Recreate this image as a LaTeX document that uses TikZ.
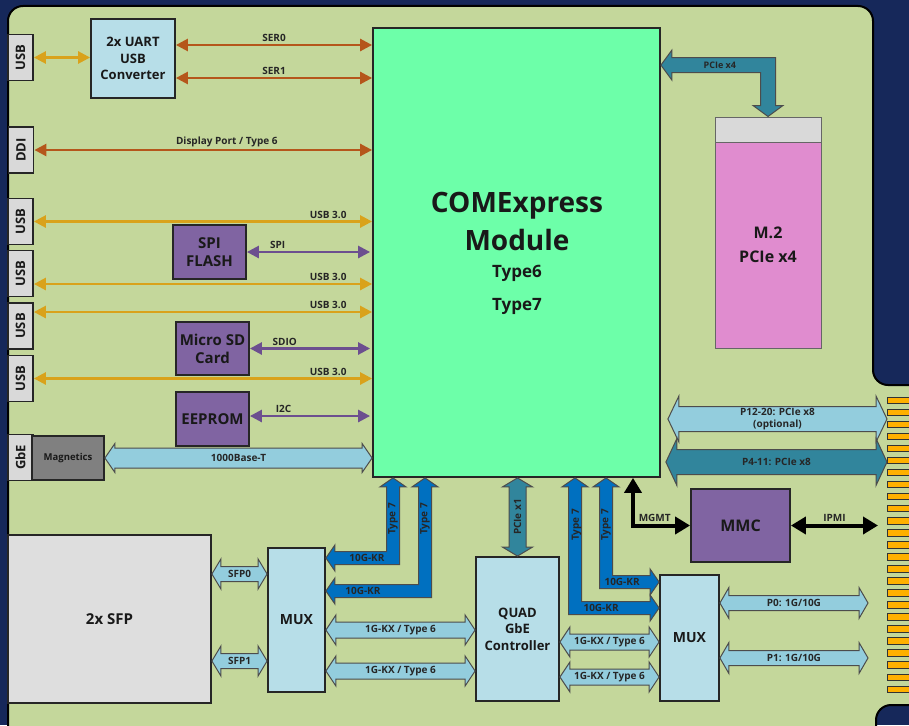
\documentclass[tikz,border=0pt]{standalone}
\usepackage{fontspec}
\setmainfont{Open Sans}
\usetikzlibrary{arrows.meta,calc}

\definecolor{bgnavy}{HTML}{16285A}
\definecolor{boardgreen}{HTML}{C4D79B}
\definecolor{comgreen}{HTML}{6DFFA9}
\definecolor{lightbox}{HTML}{B7DEE8}
\definecolor{plugray}{HTML}{D9D9D9}
\definecolor{sfpgray}{HTML}{DEDEDE}
\definecolor{chipviolet}{HTML}{8064A2}
\definecolor{serbrown}{HTML}{B5561B}
\definecolor{usbgold}{HTML}{D9A21B}
\definecolor{busviolet}{HTML}{6C4F8F}
\definecolor{laneblue}{HTML}{93CDDD}
\definecolor{laneteal}{HTML}{31859C}
\definecolor{krblue}{HTML}{0070C0}
\definecolor{m2pink}{HTML}{E08CCF}
\definecolor{fingergold}{HTML}{FFB000}

\tikzset{
  box/.style={draw=black!85, line width=1.8pt, align=center, inner sep=0pt, text=black!90},
  plug/.style={box, fill=plugray, font=\bfseries\fontsize{13}{13}\selectfont,
    minimum width=25pt, minimum height=46pt},
  chip/.style={box, fill=chipviolet, font=\bfseries\fontsize{15}{18}\selectfont,
    minimum width=73pt, minimum height=54pt},
  lbox/.style={box, fill=lightbox, font=\bfseries\fontsize{13}{16.5}\selectfont},
  comtxt/.style={font=\bfseries\fontsize{28}{34}\selectfont, text=black!90, anchor=base},
  typetxt/.style={font=\bfseries\fontsize{17}{20}\selectfont, text=black!90, anchor=base},
  lbl/.style={font=\bfseries\fontsize{10}{12}\selectfont, text=black!85, inner sep=2pt, align=center},
  ser/.style={draw=serbrown, line width=2.6pt, <->},
  usbline/.style={draw=usbgold, line width=2.6pt, <->},
  bus/.style={draw=busviolet, line width=2.6pt, <->},
  ctrl/.style={draw=black, line width=4pt, >={Triangle[length=15pt,width=17pt]}, <->},
  fatlight/.style={fill=laneblue, draw=black!70, line width=1pt},
  fatteal/.style={fill=laneteal, draw=black!70, line width=1pt},
  fatkr/.style={fill=krblue, draw=black!70, line width=1pt},
  finger/.style={fill=fingergold, draw=black!80, line width=0.8pt},
  board/.style={fill=boardgreen, draw=black, line width=2pt, rounded corners=15pt},
}

% wide double arrow: style, left tip, right tip, shaft, head, head length, label
\newcommand\fatarrow[7]{%
  \draw[#1] let \p1=#2, \p2=#3 in
    (\x1,\y1) -- ({\x1+#6},{\y1+#5}) -- ({\x1+#6},{\y1+#4}) -- ({\x2-#6},{\y1+#4})
    -- ({\x2-#6},{\y1+#5}) -- (\x2,\y1) -- ({\x2-#6},{\y1-#5}) -- ({\x2-#6},{\y1-#4})
    -- ({\x1+#6},{\y1-#4}) -- ({\x1+#6},{\y1-#5}) -- cycle
    ({(\x1+\x2)/2},\y1) node[lbl] {#7};}

% same, upright: style, top tip, bottom tip, shaft, head, head length, label
\newcommand\fatarrowv[7]{%
  \draw[#1] let \p1=#2, \p2=#3 in
    (\x1,\y1) -- ({\x1+#5},{\y1-#6}) -- ({\x1+#4},{\y1-#6}) -- ({\x1+#4},{\y2+#6})
    -- ({\x1+#5},{\y2+#6}) -- (\x1,\y2) -- ({\x1-#5},{\y2+#6}) -- ({\x1-#4},{\y2+#6})
    -- ({\x1-#4},{\y1-#6}) -- ({\x1-#5},{\y1-#6}) -- cycle
    (\x1,{(\y1+\y2)/2}) node[lbl, rotate=90] {#7};}

% bent double arrow: style, upright tip, side tip, side (1 right/-1 left),
% upright (1 up/-1 down), shaft, head, head length
\newcommand\bentarrow[8]{%
  \draw[#1] let \p1=#2, \p2=#3, \n1={(#4)*(#5)} in
    (\x1,\y1) -- ({\x1+#7},{\y1-(#5)*#8}) -- ({\x1+#6},{\y1-(#5)*#8})
    -- ({\x1+#6},{\y2+(\n1)*#6}) -- ({\x2-(#4)*#8},{\y2+(\n1)*#6})
    -- ({\x2-(#4)*#8},{\y2+(\n1)*#7}) -- (\x2,\y2)
    -- ({\x2-(#4)*#8},{\y2-(\n1)*#7}) -- ({\x2-(#4)*#8},{\y2-(\n1)*#6})
    -- ({\x1-#6},{\y2-(\n1)*#6}) -- ({\x1-#6},{\y1-(#5)*#8})
    -- ({\x1-#7},{\y1-(#5)*#8}) -- cycle;}

\begin{document}
\begin{tikzpicture}[x=1pt, y=-1pt, >={Triangle[length=12pt,width=12pt]}]
\useasboundingbox (0,0) rectangle (909,725);
\clip (0,0) rectangle (909,725);
\fill[bgnavy] (0,0) rectangle (909,725);

% carrier board with edge fingers
\draw[board] (8,745) -- (8,6) -- (873,6) -- (873,385) -- (950,385)
  -- (950,705) -- (876,705) -- (876,745) -- cycle;
\foreach \i in {0,...,24}
  \draw[finger] (887,{397+12.04*\i}) rectangle (916,{403.5+12.04*\i});
\coordinate (fingers) at (887,0);
\coordinate (pend) at (868,0);
\coordinate (ipmiend) at (878,0);

% front connectors
\node[plug] (usbA) at (20.5,57.5) {\rotatebox{90}{USB}};
\node[plug] (ddi) at (21,150) {\rotatebox{90}{DDI}};
\node[plug] (usbB) at (20.5,221.5) {\rotatebox{90}{USB}};
\node[plug] (usbC) at (20.5,273.5) {\rotatebox{90}{USB}};
\node[plug] (usbD) at (20.5,326) {\rotatebox{90}{USB}};
\node[plug] (usbE) at (20.5,378.5) {\rotatebox{90}{USB}};
\node[plug] (gbe) at (20.5,457.5) {\rotatebox{90}{GbE}};
\node[box, fill=black!50, font=\bfseries\fontsize{9.5}{11}\selectfont,
  minimum width=72pt, minimum height=44pt] (mag) at (68,458) {Magnetics};

% module and devices
\node[box, fill=comgreen, minimum width=287pt, minimum height=449pt] (com) at (516.5,252.5) {};
\node[comtxt] at (517,212) {COMExpress};
\node[comtxt] at (517,250) {Module};
\node[typetxt] at (517,277) {Type6};
\node[typetxt] at (517,310) {Type7};

\node[lbox, minimum width=84pt, minimum height=79pt] (uart) at (133,58.5) {2x UART\\USB\\Converter};
\node[chip] (spi) at (209.5,252) {SPI\\FLASH};
\node[chip, minimum height=53pt] (sd) at (212.5,348.5) {Micro SD\\Card};
\node[chip] (eeprom) at (212.5,419) {EEPROM};

\node[box, draw=black!60, line width=1pt, fill=plugray,
  minimum width=106pt, minimum height=25pt] (m2cap) at (768,129.5) {};
\node[box, draw=black!60, line width=1pt, fill=m2pink, font=\bfseries\fontsize{16}{24}\selectfont,
  minimum width=106pt, minimum height=206pt] (m2) at (768,245) {M.2\\PCIe x4};

\node[box, fill=sfpgray, font=\bfseries\fontsize{15}{18}\selectfont,
  minimum width=203pt, minimum height=168pt] (sfp) at (109.5,619) {2x SFP};
\node[lbox, font=\bfseries\fontsize{14}{16}\selectfont,
  minimum width=57pt, minimum height=144pt] (muxL) at (296.5,620) {MUX};
\node[lbox, minimum width=83pt, minimum height=144pt] (quad) at (517.5,629) {QUAD\\GbE\\Controller};
\node[lbox, font=\bfseries\fontsize{14}{16}\selectfont,
  minimum width=59pt, minimum height=126pt] (muxR) at (689.5,638) {MUX};
\node[chip, font=\bfseries\fontsize{16}{18}\selectfont,
  minimum width=99pt, minimum height=73pt] (mmc) at (740.5,525.5) {MMC};

% serial, display and usb lines
\draw[usbline] (usbA.east) -- (usbA.east -| uart.west);
\draw[ser] ([yshift=13.5pt]uart.east) -- ([yshift=13.5pt]uart.east -| com.west)
  node[lbl, midway, above] {SER0};
\draw[ser] ([yshift=-19.5pt]uart.east) -- ([yshift=-19.5pt]uart.east -| com.west)
  node[lbl, midway, above] {SER1};
\draw[ser] (ddi.east) -- (ddi.east -| com.west)
  node[lbl, pos=0.57, above] {Display Port / Type 6};
\draw[usbline] (usbB.east) -- (usbB.east -| com.west) node[lbl, pos=0.87, above] {USB 3.0};
\draw[usbline] ([yshift=-10.5pt]usbC.east) -- ([yshift=-10.5pt]usbC.east -| com.west)
  node[lbl, pos=0.87, above] {USB 3.0};
\draw[usbline] ([yshift=14pt]usbD.east) -- ([yshift=14pt]usbD.east -| com.west)
  node[lbl, pos=0.87, above] {USB 3.0};
\draw[usbline] (usbE.east) -- (usbE.east -| com.west) node[lbl, pos=0.87, above] {USB 3.0};
\draw[bus] (spi.east) -- ([xshift=-2pt]spi.east -| com.west) node[lbl, pos=0.25, above] {SPI};
\draw[bus] (sd.east) -- ([xshift=-2pt]sd.east -| com.west) node[lbl, pos=0.29, above] {SDIO};
\draw[bus] ([yshift=3pt]eeprom.east) -- ([xshift=-2pt,yshift=3pt]eeprom.east -| com.west)
  node[lbl, pos=0.28, above] {I2C};

% wide lanes
\fatarrow{fatlight}{(mag.east)}{(mag.east -| com.west)}{10pt}{14.5pt}{10pt}{1000Base-T}
\fatarrow{fatlight}{([yshift=45pt]sfp.east)}{([yshift=45pt]sfp.east -| muxL.west)}{7.5pt}{15pt}{9pt}{SFP0}
\fatarrow{fatlight}{([yshift=-42pt]sfp.east)}{([yshift=-42pt]sfp.east -| muxL.west)}{7.5pt}{15pt}{9pt}{SFP1}
\fatarrow{fatlight}{([yshift=-10pt]muxL.east)}{([yshift=-10pt]muxL.east -| quad.west)}{8pt}{15pt}{10pt}{1G-KX / Type 6}
\fatarrow{fatlight}{([yshift=-51pt]muxL.east)}{([yshift=-51pt]muxL.east -| quad.west)}{8pt}{15pt}{10pt}{1G-KX / Type 6}
\fatarrow{fatlight}{([yshift=-13pt]quad.east)}{([yshift=-13pt]quad.east -| muxR.west)}{8pt}{15pt}{10pt}{1G-KX / Type 6}
\fatarrow{fatlight}{([yshift=-48pt]quad.east)}{([yshift=-48pt]quad.east -| muxR.west)}{8pt}{15pt}{10pt}{1G-KX / Type 6}
\fatarrow{fatlight}{([yshift=35pt]muxR.east)}{([yshift=35pt]muxR.east -| pend)}{7.5pt}{15.5pt}{9pt}{P0: 1G/10G}
\fatarrow{fatlight}{([yshift=-20pt]muxR.east)}{([yshift=-20pt]muxR.east -| pend)}{7.5pt}{15.5pt}{9pt}{P1: 1G/10G}
\fatarrow{fatlight}{([xshift=7pt,yshift=-166.5pt]com.east)}{([yshift=-166.5pt]com.east -| fingers)}{12.5pt}{23pt}{11pt}{P12-20: PCIe x8\\(optional)}
\fatarrow{fatteal}{([xshift=5pt,yshift=-209.5pt]com.east)}{([yshift=-209.5pt]com.east -| fingers)}{12.5pt}{23.5pt}{11pt}{P4-11: PCIe x8}
\fatarrowv{fatteal}{(quad.north |- com.south)}{(quad.north)}{8.5pt}{15pt}{9pt}{PCIe x1}

% m.2 link
\bentarrow{fatteal}{(m2cap.north)}{([yshift=-38pt]com.north east)}{-1}{-1}{7.5pt}{15pt}{11pt}
\node[lbl, font=\bfseries\fontsize{9}{10}\selectfont] at ([xshift=59pt,yshift=-38pt]com.north east) {PCIe x4};

% 10G-KR lanes
\bentarrow{fatkr}{([xshift=-123.5pt]com.south)}{([yshift=62pt]muxL.east)}{-1}{1}{6.5pt}{13pt}{9pt}
\bentarrow{fatkr}{([xshift=-91.5pt]com.south)}{([yshift=29pt]muxL.east)}{-1}{1}{6.5pt}{13pt}{9pt}
\bentarrow{fatkr}{([xshift=58.5pt]com.south)}{([yshift=30pt]muxR.west)}{1}{1}{6.5pt}{13pt}{9pt}
\bentarrow{fatkr}{([xshift=89.5pt]com.south)}{([yshift=56pt]muxR.west)}{1}{1}{6.5pt}{13pt}{9pt}
\node[lbl, rotate=90] at ([xshift=-123.5pt,yshift=-41pt]com.south) {Type 7};
\node[lbl, rotate=90] at ([xshift=-91.5pt,yshift=-41pt]com.south) {Type 7};
\node[lbl, rotate=90] at ([xshift=60pt,yshift=-47pt]com.south) {Type 7};
\node[lbl, rotate=90] at ([xshift=89.5pt,yshift=-47pt]com.south) {Type 7};
\node[lbl] at ([xshift=41pt,yshift=62pt]muxL.east) {10G-KR};
\node[lbl] at ([xshift=37pt,yshift=29pt]muxL.east) {10G-KR};
\node[lbl] at ([xshift=-58pt,yshift=30pt]muxR.west) {10G-KR};
\node[lbl] at ([xshift=-37pt,yshift=56pt]muxR.west) {10G-KR};

% management
\draw[ctrl] (mmc.west) -| ([xshift=116.5pt]com.south) node[lbl, pos=0.31, above] {MGMT};
\draw[ctrl] (mmc.east) -- (mmc.east -| ipmiend) node[lbl, midway, above] {IPMI};

\end{tikzpicture}
\end{document}
